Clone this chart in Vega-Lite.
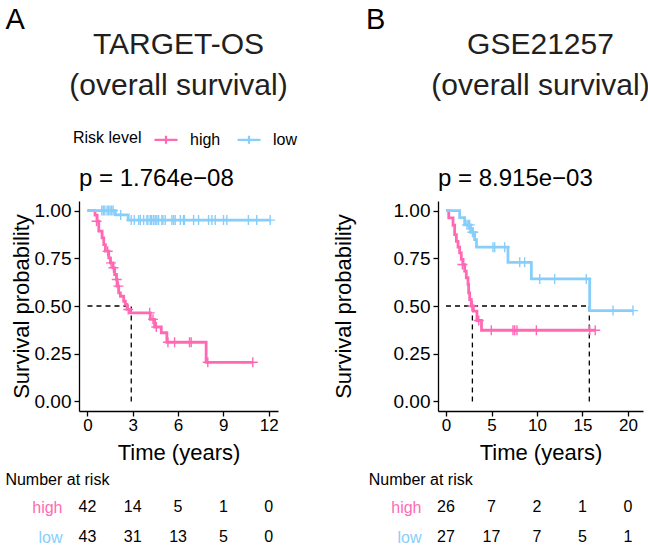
{
  "$schema": "https://vega.github.io/schema/vega-lite/v6.json",
  "background": "white",
  "padding": {"left": 5, "top": 5, "right": 0, "bottom": 0},
  "config": {
    "font": "Liberation Sans",
    "view": {"stroke": null},
    "axis": {"domainColor": "#000", "domainWidth": 1.3, "tickColor": "#000", "tickWidth": 1.3, "tickSize": 5, "labelColor": "#000", "labelFontSize": 17, "titleFontSize": 22, "titleFontWeight": "normal", "titleColor": "#000", "grid": false, "labelPadding": 3},
    "title": {"fontWeight": "normal", "color": "#231F20"},
    "legend": {"orient": "none", "legendX": -6, "legendY": -74.5, "direction": "horizontal", "titleOrient": "left", "titleFontSize": 16, "titleFontWeight": "normal", "titleColor": "#000", "labelFontSize": 16, "labelColor": "#000", "titlePadding": 11, "labelOffset": 11, "columnPadding": 12, "symbolType": "M-1,0H1M0,-0.35V0.35", "symbolSize": 529, "symbolStrokeWidth": 2.2, "symbolFillColor": "transparent"}
  },
  "datasets": {
    "curveA": [
      {"group": "high", "t": 0, "s": 1}, {"group": "high", "t": 0.5, "s": 0.976}, {"group": "high", "t": 0.64, "s": 0.944}, {"group": "high", "t": 0.75, "s": 0.892}, {"group": "high", "t": 0.97, "s": 0.857}, {"group": "high", "t": 1.08, "s": 0.822}, {"group": "high", "t": 1.19, "s": 0.787}, {"group": "high", "t": 1.41, "s": 0.752}, {"group": "high", "t": 1.52, "s": 0.726}, {"group": "high", "t": 1.69, "s": 0.7}, {"group": "high", "t": 1.8, "s": 0.665}, {"group": "high", "t": 1.92, "s": 0.639}, {"group": "high", "t": 1.96, "s": 0.604}, {"group": "high", "t": 2.07, "s": 0.569}, {"group": "high", "t": 2.18, "s": 0.551}, {"group": "high", "t": 2.4, "s": 0.525}, {"group": "high", "t": 2.51, "s": 0.508}, {"group": "high", "t": 2.62, "s": 0.482}, {"group": "high", "t": 2.84, "s": 0.464}, {"group": "high", "t": 4.16, "s": 0.43}, {"group": "high", "t": 4.45, "s": 0.39}, {"group": "high", "t": 4.89, "s": 0.36}, {"group": "high", "t": 5.26, "s": 0.31}, {"group": "high", "t": 7.86, "s": 0.205}, {"group": "high", "t": 10.95, "s": 0.205},
      {"group": "low", "t": 0, "s": 1}, {"group": "low", "t": 1.85, "s": 0.977}, {"group": "low", "t": 2.7, "s": 0.95}, {"group": "low", "t": 12.1, "s": 0.95}
    ],
    "censA": [
      {"group": "high", "t": 0.6, "s": 0.944}, {"group": "high", "t": 1.34, "s": 0.787}, {"group": "high", "t": 1.56, "s": 0.726}, {"group": "high", "t": 1.72, "s": 0.7}, {"group": "high", "t": 1.94, "s": 0.639}, {"group": "high", "t": 2.05, "s": 0.604}, {"group": "high", "t": 2.7, "s": 0.482}, {"group": "high", "t": 4.12, "s": 0.464}, {"group": "high", "t": 4.34, "s": 0.43}, {"group": "high", "t": 4.56, "s": 0.39}, {"group": "high", "t": 5.33, "s": 0.31}, {"group": "high", "t": 5.77, "s": 0.31}, {"group": "high", "t": 6.76, "s": 0.31}, {"group": "high", "t": 6.87, "s": 0.31}, {"group": "high", "t": 7.97, "s": 0.205}, {"group": "high", "t": 10.95, "s": 0.205},
      {"group": "low", "t": 0.95, "s": 1}, {"group": "low", "t": 1.05, "s": 1}, {"group": "low", "t": 1.15, "s": 1}, {"group": "low", "t": 1.3, "s": 1}, {"group": "low", "t": 1.4, "s": 1}, {"group": "low", "t": 1.5, "s": 1}, {"group": "low", "t": 1.6, "s": 1}, {"group": "low", "t": 1.7, "s": 1}, {"group": "low", "t": 2.2, "s": 0.977}, {"group": "low", "t": 2.9, "s": 0.95}, {"group": "low", "t": 3.1, "s": 0.95}, {"group": "low", "t": 3.39, "s": 0.95}, {"group": "low", "t": 3.5, "s": 0.95}, {"group": "low", "t": 3.72, "s": 0.95}, {"group": "low", "t": 3.94, "s": 0.95}, {"group": "low", "t": 4.0, "s": 0.95}, {"group": "low", "t": 4.16, "s": 0.95}, {"group": "low", "t": 4.25, "s": 0.95}, {"group": "low", "t": 4.38, "s": 0.95}, {"group": "low", "t": 4.49, "s": 0.95}, {"group": "low", "t": 4.6, "s": 0.95}, {"group": "low", "t": 4.71, "s": 0.95}, {"group": "low", "t": 4.93, "s": 0.95}, {"group": "low", "t": 5.0, "s": 0.95}, {"group": "low", "t": 5.15, "s": 0.95}, {"group": "low", "t": 5.59, "s": 0.95}, {"group": "low", "t": 5.7, "s": 0.95}, {"group": "low", "t": 5.81, "s": 0.95}, {"group": "low", "t": 6.15, "s": 0.95}, {"group": "low", "t": 6.36, "s": 0.95}, {"group": "low", "t": 6.42, "s": 0.95}, {"group": "low", "t": 7.03, "s": 0.95}, {"group": "low", "t": 7.36, "s": 0.95}, {"group": "low", "t": 8.02, "s": 0.95}, {"group": "low", "t": 8.24, "s": 0.95}, {"group": "low", "t": 8.46, "s": 0.95}, {"group": "low", "t": 9.01, "s": 0.95}, {"group": "low", "t": 9.23, "s": 0.95}, {"group": "low", "t": 10.66, "s": 0.95}, {"group": "low", "t": 11.21, "s": 0.95}, {"group": "low", "t": 12.1, "s": 0.95}
    ],
    "medA": [
      {"x": 0, "x2": 2.9, "y": 0.5, "y2": 0.5},
      {"x": 2.9, "x2": 2.9, "y": 0, "y2": 0.5}
    ],
    "pA": [{"t": -0.56, "s": 1.167, "label": "p = 1.764e−08"}],
    "riskA": [
      {"group": "high", "t": 0, "n": 42}, {"group": "high", "t": 3, "n": 14}, {"group": "high", "t": 6, "n": 5}, {"group": "high", "t": 9, "n": 1}, {"group": "high", "t": 12, "n": 0},
      {"group": "low", "t": 0, "n": 43}, {"group": "low", "t": 3, "n": 31}, {"group": "low", "t": 6, "n": 13}, {"group": "low", "t": 9, "n": 5}, {"group": "low", "t": 12, "n": 0}
    ],
    "curveB": [
      {"group": "high", "t": 0, "s": 1}, {"group": "high", "t": 0.3, "s": 0.962}, {"group": "high", "t": 0.77, "s": 0.923}, {"group": "high", "t": 0.95, "s": 0.874}, {"group": "high", "t": 1.14, "s": 0.839}, {"group": "high", "t": 1.32, "s": 0.808}, {"group": "high", "t": 1.5, "s": 0.778}, {"group": "high", "t": 1.68, "s": 0.744}, {"group": "high", "t": 1.87, "s": 0.717}, {"group": "high", "t": 2.05, "s": 0.683}, {"group": "high", "t": 2.23, "s": 0.648}, {"group": "high", "t": 2.42, "s": 0.613}, {"group": "high", "t": 2.49, "s": 0.569}, {"group": "high", "t": 2.6, "s": 0.534}, {"group": "high", "t": 2.78, "s": 0.5}, {"group": "high", "t": 3.0, "s": 0.473}, {"group": "high", "t": 3.4, "s": 0.424}, {"group": "high", "t": 3.9, "s": 0.373}, {"group": "high", "t": 16.4, "s": 0.373},
      {"group": "low", "t": 0, "s": 1}, {"group": "low", "t": 1.5, "s": 0.963}, {"group": "low", "t": 2.05, "s": 0.925}, {"group": "low", "t": 2.7, "s": 0.886}, {"group": "low", "t": 3.15, "s": 0.848}, {"group": "low", "t": 3.35, "s": 0.808}, {"group": "low", "t": 6.81, "s": 0.729}, {"group": "low", "t": 9.38, "s": 0.642}, {"group": "low", "t": 15.79, "s": 0.476}, {"group": "low", "t": 20.55, "s": 0.476}
    ],
    "censB": [
      {"group": "high", "t": 1.8, "s": 0.717}, {"group": "high", "t": 2.9, "s": 0.5}, {"group": "high", "t": 3.6, "s": 0.424}, {"group": "high", "t": 4.98, "s": 0.373}, {"group": "high", "t": 7.36, "s": 0.373}, {"group": "high", "t": 7.55, "s": 0.373}, {"group": "high", "t": 7.8, "s": 0.373}, {"group": "high", "t": 9.93, "s": 0.373}, {"group": "high", "t": 15.8, "s": 0.373}, {"group": "high", "t": 16.4, "s": 0.373},
      {"group": "low", "t": 2.3, "s": 0.925}, {"group": "low", "t": 2.45, "s": 0.925}, {"group": "low", "t": 2.6, "s": 0.925}, {"group": "low", "t": 2.9, "s": 0.886}, {"group": "low", "t": 3.0, "s": 0.886}, {"group": "low", "t": 5.16, "s": 0.808}, {"group": "low", "t": 5.35, "s": 0.808}, {"group": "low", "t": 6.45, "s": 0.808}, {"group": "low", "t": 8.1, "s": 0.729}, {"group": "low", "t": 8.64, "s": 0.729}, {"group": "low", "t": 10.3, "s": 0.642}, {"group": "low", "t": 11.94, "s": 0.642}, {"group": "low", "t": 15.42, "s": 0.642}, {"group": "low", "t": 18.35, "s": 0.476}, {"group": "low", "t": 20.55, "s": 0.476}
    ],
    "medB": [
      {"x": 0, "x2": 15.75, "y": 0.5, "y2": 0.5},
      {"x": 2.9, "x2": 2.9, "y": 0, "y2": 0.5},
      {"x": 15.75, "x2": 15.75, "y": 0, "y2": 0.5}
    ],
    "pB": [{"t": -0.88, "s": 1.167, "label": "p = 8.915e−03"}],
    "riskB": [
      {"group": "high", "t": 0, "n": 26}, {"group": "high", "t": 5, "n": 7}, {"group": "high", "t": 10, "n": 2}, {"group": "high", "t": 15, "n": 1}, {"group": "high", "t": 20, "n": 0},
      {"group": "low", "t": 0, "n": 27}, {"group": "low", "t": 5, "n": 17}, {"group": "low", "t": 10, "n": 7}, {"group": "low", "t": 15, "n": 5}, {"group": "low", "t": 20, "n": 1}
    ]
  },
  "hconcat": [
    {
      "title": {"text": "A", "anchor": "start", "frame": "bounds", "fontSize": 29, "color": "#000", "offset": -5},
      "spacing": 9,
      "vconcat": [
        {
          "width": 199, "height": 210,
          "title": {"text": ["TARGET-OS", "(overall survival)"], "fontSize": 30, "lineHeight": 41, "anchor": "middle", "frame": "group", "offset": 66},
          "layer": [
            {"data": {"name": "medA"}, "mark": {"type": "rule", "strokeDash": [5, 4], "color": "#000", "strokeWidth": 1.3},
             "encoding": {"x": {"field": "x", "type": "quantitative", "scale": {"domain": [-0.56, 12.62], "nice": false, "zero": false}}, "x2": {"field": "x2"}, "y": {"field": "y", "type": "quantitative"}, "y2": {"field": "y2"}}},
            {"data": {"name": "curveA"}, "mark": {"type": "line", "interpolate": "step-after", "strokeWidth": 2.8},
             "encoding": {
               "x": {"field": "t", "type": "quantitative", "scale": {"domain": [-0.56, 12.62], "nice": false, "zero": false}, "axis": {"values": [0, 3, 6, 9, 12], "title": "Time (years)", "labelPadding": 1, "titlePadding": 9}},
               "y": {"field": "s", "type": "quantitative", "scale": {"domain": [-0.05, 1.05], "nice": false, "zero": false}, "axis": {"values": [0, 0.25, 0.5, 0.75, 1], "format": ".2f", "title": "Survival probability", "titlePadding": 1, "labelFontSize": 19}},
               "color": {"field": "group", "type": "nominal", "scale": {"domain": ["high", "low"], "range": ["#FF69B4", "#87CEFA"]}, "legend": {"title": "Risk level"}}}},
            {"data": {"name": "censA"}, "mark": {"type": "point", "shape": "M-1,0H1M0,-1V1", "filled": false, "size": 100, "strokeWidth": 1.4, "opacity": 1},
             "encoding": {"x": {"field": "t", "type": "quantitative"}, "y": {"field": "s", "type": "quantitative"}, "color": {"field": "group", "type": "nominal"}}},
            {"data": {"name": "pA"}, "mark": {"type": "text", "align": "left", "baseline": "middle", "fontSize": 24, "color": "#000"},
             "encoding": {"x": {"field": "t", "type": "quantitative"}, "y": {"field": "s", "type": "quantitative"}, "text": {"field": "label"}}}
          ]
        },
        {
          "width": 199, "height": 60,
          "title": {"text": "Number at risk", "anchor": "start", "frame": "group", "dx": -73.6, "fontSize": 16, "color": "#000", "offset": 4},
          "data": {"name": "riskA"},
          "mark": {"type": "text", "fontSize": 16, "color": "#000", "baseline": "middle"},
          "encoding": {
            "x": {"field": "t", "type": "quantitative", "scale": {"domain": [-0.56, 12.62], "nice": false, "zero": false}, "axis": null},
            "y": {"field": "group", "type": "nominal", "scale": {"type": "point", "padding": 0.5, "domain": ["high", "low"]}, "axis": {"title": null, "domain": false, "ticks": false, "labelPadding": 17, "labelFontSize": 16, "labelColor": {"expr": "datum.value === 'high' ? '#FF69B4' : '#87CEFA'"}}},
            "text": {"field": "n", "type": "quantitative"}
          }
        }
      ]
    },
    {
      "title": {"text": "B", "anchor": "start", "frame": "bounds", "fontSize": 29, "color": "#000", "offset": -5, "dx": 34},
      "spacing": 9,
      "vconcat": [
        {
          "width": 205, "height": 210,
          "title": {"text": ["GSE21257", "(overall survival)"], "fontSize": 30, "lineHeight": 41, "anchor": "middle", "frame": "group", "offset": 66},
          "layer": [
            {"data": {"name": "medB"}, "mark": {"type": "rule", "strokeDash": [5, 4], "color": "#000", "strokeWidth": 1.3},
             "encoding": {"x": {"field": "x", "type": "quantitative", "scale": {"domain": [-0.88, 21.65], "nice": false, "zero": false}}, "x2": {"field": "x2"}, "y": {"field": "y", "type": "quantitative"}, "y2": {"field": "y2"}}},
            {"data": {"name": "curveB"}, "mark": {"type": "line", "interpolate": "step-after", "strokeWidth": 2.8},
             "encoding": {
               "x": {"field": "t", "type": "quantitative", "scale": {"domain": [-0.88, 21.65], "nice": false, "zero": false}, "axis": {"values": [0, 5, 10, 15, 20], "title": "Time (years)", "labelPadding": 1, "titlePadding": 9}},
               "y": {"field": "s", "type": "quantitative", "scale": {"domain": [-0.05, 1.05], "nice": false, "zero": false}, "axis": {"values": [0, 0.25, 0.5, 0.75, 1], "format": ".2f", "title": "Survival probability", "titlePadding": 38, "labelFontSize": 19}},
               "color": {"field": "group", "type": "nominal", "scale": {"domain": ["high", "low"], "range": ["#FF69B4", "#87CEFA"]}, "legend": {"title": "Risk level"}}}},
            {"data": {"name": "censB"}, "mark": {"type": "point", "shape": "M-1,0H1M0,-1V1", "filled": false, "size": 100, "strokeWidth": 1.4, "opacity": 1},
             "encoding": {"x": {"field": "t", "type": "quantitative"}, "y": {"field": "s", "type": "quantitative"}, "color": {"field": "group", "type": "nominal"}}},
            {"data": {"name": "pB"}, "mark": {"type": "text", "align": "left", "baseline": "middle", "fontSize": 24, "color": "#000"},
             "encoding": {"x": {"field": "t", "type": "quantitative"}, "y": {"field": "s", "type": "quantitative"}, "text": {"field": "label"}}}
          ]
        },
        {
          "width": 205, "height": 60,
          "title": {"text": "Number at risk", "anchor": "start", "frame": "group", "dx": -69.3, "fontSize": 16, "color": "#000", "offset": 4},
          "data": {"name": "riskB"},
          "mark": {"type": "text", "fontSize": 16, "color": "#000", "baseline": "middle"},
          "encoding": {
            "x": {"field": "t", "type": "quantitative", "scale": {"domain": [-0.88, 21.65], "nice": false, "zero": false}, "axis": null},
            "y": {"field": "group", "type": "nominal", "scale": {"type": "point", "padding": 0.5, "domain": ["high", "low"]}, "axis": {"title": null, "domain": false, "ticks": false, "labelPadding": 17, "labelFontSize": 16, "labelColor": {"expr": "datum.value === 'high' ? '#FF69B4' : '#87CEFA'"}}},
            "text": {"field": "n", "type": "quantitative"}
          }
        }
      ]
    }
  ],
  "spacing": 44
}
